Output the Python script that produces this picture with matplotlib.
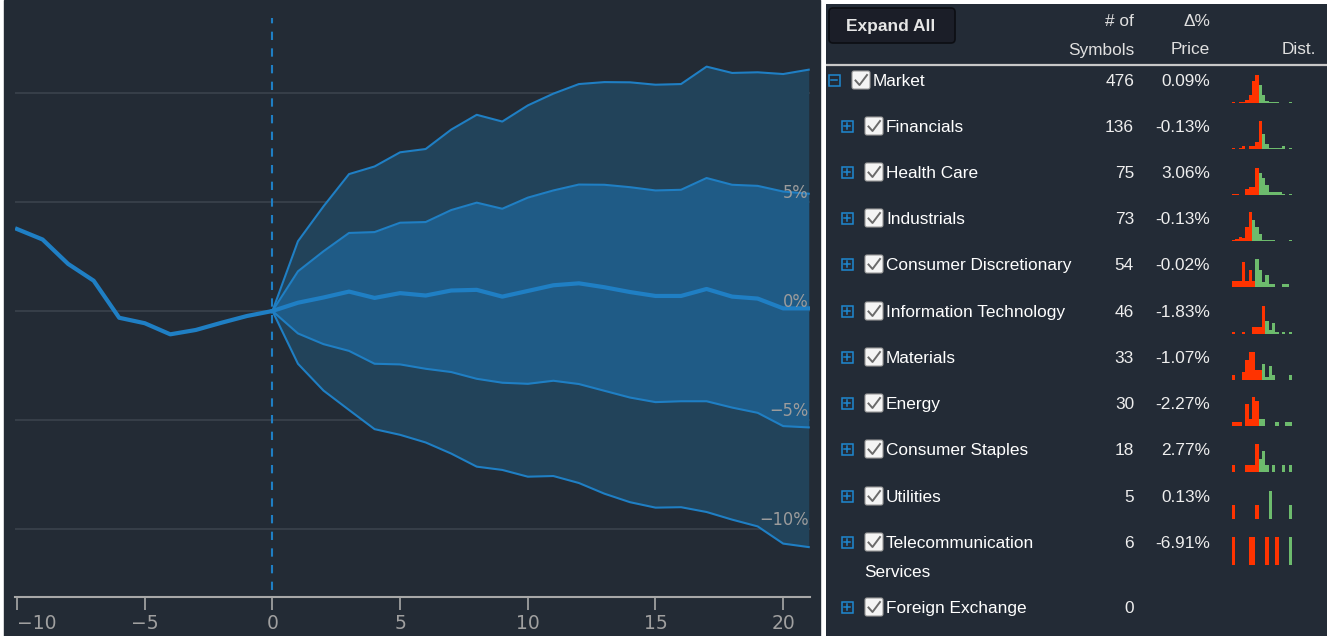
import matplotlib
matplotlib.use("Agg")
import matplotlib.pyplot as plt
from matplotlib.patches import Rectangle, FancyBboxPatch

W, H = 1327, 636

# price move (%) around the event day
days_pre = list(range(-10, 1))
pre_line = [3.76, 3.28, 2.16, 1.39, -0.31, -0.56, -1.07, -0.87, -0.54, -0.23, 0.0]

days_post = list(range(0, 22))
upper_outer = [0, 3.2, 4.8, 6.28, 6.63, 7.28, 7.43, 8.32, 9.0, 8.69, 9.43, 9.97,
               10.41, 10.5, 10.49, 10.38, 10.41, 11.21, 10.92, 10.95, 10.87, 11.07]
upper_inner = [0, 1.82, 2.74, 3.58, 3.62, 4.05, 4.08, 4.63, 4.97, 4.69, 5.2, 5.53,
               5.8, 5.79, 5.68, 5.53, 5.56, 6.1, 5.79, 5.74, 5.48, 5.38]
median = [0, 0.38, 0.62, 0.89, 0.6, 0.82, 0.71, 0.94, 0.97, 0.66, 0.92, 1.18,
          1.27, 1.09, 0.87, 0.69, 0.69, 1.01, 0.66, 0.57, 0.12, 0.12]
lower_inner = [0, -1.03, -1.52, -1.83, -2.42, -2.45, -2.65, -2.8, -3.11, -3.29, -3.34, -3.2,
               -3.35, -3.66, -3.97, -4.18, -4.14, -4.14, -4.43, -4.67, -5.28, -5.34]
lower_outer = [0, -2.42, -3.65, -4.54, -5.42, -5.68, -6.03, -6.54, -7.14, -7.29, -7.6, -7.57,
               -7.89, -8.38, -8.77, -9.02, -9.0, -9.22, -9.57, -9.88, -10.67, -10.83]

x_ticks = [-10, -5, 0, 5, 10, 15, 20]
y_labels = [5, 0, -5, -10]

# sector table
sectors = ["Market", "Financials", "Health Care", "Industrials", "Consumer Discretionary",
           "Information Technology", "Materials", "Energy", "Consumer Staples", "Utilities",
           "Telecommunication Services", "Foreign Exchange"]
n_symbols = [476, 136, 75, 73, 54, 46, 33, 30, 18, 5, 6, 0]
pct_change = [0.09, -0.13, 3.06, -0.13, -0.02, -1.83, -1.07, -2.27, 2.77, 0.13, -6.91, None]

# distribution of returns, bins left of split are down moves
hist_counts = [
    [1, 0, 1, 1, 3, 8, 22, 28, 18, 8, 2, 1, 1, 1, 0, 0, 0, 1],
    [1, 0, 1, 3, 0, 3, 3, 7, 28, 15, 5, 1, 1, 1, 1, 3, 0, 1],
    [1, 1, 0, 0, 6, 8, 8, 27, 22, 17, 10, 3, 3, 3, 3, 1, 0, 1],
    [1, 2, 4, 3, 14, 29, 21, 14, 7, 1, 1, 1, 1, 0, 0, 0, 0, 1],
    [6, 6, 6, 25, 6, 17, 6, 28, 17, 5, 12, 3, 3, 0, 0, 3, 3, 0],
    [2, 0, 0, 2, 0, 0, 7, 7, 7, 28, 13, 4, 11, 2, 0, 2, 0, 2],
    [5, 0, 0, 8, 20, 28, 28, 10, 10, 16, 3, 14, 5, 0, 0, 0, 0, 5],
    [4, 4, 4, 0, 22, 7, 29, 25, 7, 7, 0, 0, 0, 4, 0, 0, 4, 4],
    [7, 0, 0, 0, 7, 7, 7, 28, 13, 21, 7, 0, 7, 0, 0, 7, 0, 7],
    [14, 0, 0, 0, 0, 0, 0, 14, 0, 0, 0, 28, 0, 0, 0, 0, 0, 14],
    [28, 0, 0, 0, 0, 28, 28, 0, 0, 0, 28, 0, 0, 28, 0, 0, 0, 28],
    [],
]
hist_split = [8, 9, 8, 6, 7, 10, 9, 8, 8, 8, 14, 0]

bg = "#232b35"
line_c = "#1f7fc4"
grid_c = "#3a434d"
axis_c = "#a8a8a8"
red = "#ff3300"
green = "#6dbb6d"

fig = plt.figure(figsize=(W / 100, H / 100), dpi=100, facecolor="white")

# left panel
fig.add_artist(Rectangle((4 / W, 0), (820 - 4) / W, 1, transform=fig.transFigure,
                         color=bg, zorder=0))
ax = fig.add_axes([15 / W, (H - 597) / H, 795 / W, 587 / H])
ax.set_facecolor("none")
ax.set_xlim(-10.08, 21.05)
ax.set_ylim((311 - 597) / 21.8, (311 - 10) / 21.8)

for v in [-10, -5, 0, 5, 10]:
    ax.axhline(v, color=grid_c, lw=1.2, zorder=1)

ax.fill_between(days_post, lower_outer, upper_outer, color="#22435a", lw=0, zorder=2)
ax.fill_between(days_post, lower_inner, upper_inner, color="#1f5b86", lw=0, zorder=3)
for s in [upper_outer, lower_outer, upper_inner, lower_inner]:
    ax.plot(days_post, s, color=line_c, lw=1.5, zorder=4)
ax.plot(days_post, median, color=line_c, lw=3, zorder=5)
ax.plot(days_pre, pre_line, color=line_c, lw=3, zorder=5)
ax.vlines(0, (311 - 590) / 21.8, (311 - 18) / 21.8, color=line_c, lw=1.5,
          linestyles=(0, (4, 4)), zorder=6)

chart_font = ["DejaVu Sans"]
for v in y_labels:
    lab = ("\u2212" if v < 0 else "") + f"{abs(v)}%"
    ax.text(21.0, v + 0.42, lab, ha="right", va="center", color="#9c9c9c",
            fontsize=13, family=chart_font, fontstretch="condensed", zorder=7)

for side in ["left", "right", "top"]:
    ax.spines[side].set_visible(False)
ax.spines["bottom"].set_color(axis_c)
ax.spines["bottom"].set_linewidth(1.5)
ax.set_yticks([])
ax.set_xticks(x_ticks)
ax.tick_params(axis="x", direction="out", length=9, width=1.2, color=axis_c,
               labelcolor="#a0a0a0", labelsize=13.5, pad=3)
for t in ax.get_xticklabels():
    t.set_family(chart_font)
ax.get_xticklabels()[0].set_horizontalalignment("left")

# right panel table
axt = fig.add_axes([826 / W, 0, 501 / W, 632 / H])
axt.set_xlim(826, 1327)
axt.set_ylim(636, 4)
axt.set_facecolor("#232b36")
axt.axis("off")
axt.add_patch(Rectangle((826, 4), 501, 632, color="#232b36", zorder=0))

tf = "Liberation Sans"
axt.add_patch(FancyBboxPatch((829, 8), 126, 35, boxstyle="round,pad=0,rounding_size=4",
                             facecolor="#1b1e28", edgecolor="#0c0e13", lw=1.2, zorder=2))
axt.text(891, 27, "Expand All", ha="center", va="center", color="#e6e6e6",
         fontsize=12.5, fontweight="bold", family=tf, zorder=3)
hdr = dict(ha="right", va="center", color="#e0e0e0", fontsize=12.4, family=tf)
axt.text(1134, 21, "# of", **hdr)
axt.text(1134, 50, "Symbols", **hdr)
axt.text(1210, 21, "\u0394%", **hdr)
axt.text(1210, 50, "Price", **hdr)
axt.text(1316, 50, "Dist.", **hdr)
axt.plot([826, 1327], [65, 65], color="#c8c8c8", lw=1.6)

row_y = [80, 126, 172, 218, 264, 311, 357, 403, 449, 496, 542, 607]
bw = 60 / 18
for r, name in enumerate(sectors):
    y = row_y[r]
    indent = 0 if r == 0 else 13
    ix = 834 + indent
    # expander icon
    axt.add_patch(Rectangle((ix - 5.5, y - 5.5), 11, 11, fill=False,
                            edgecolor="#1e88d0", lw=1.1))
    axt.plot([ix - 3, ix + 3], [y, y], color="#1e88d0", lw=1.1)
    if r > 0:
        axt.plot([ix, ix], [y - 3, y + 3], color="#1e88d0", lw=1.1)
    # checkbox
    cx = 852 + indent
    axt.add_patch(FancyBboxPatch((cx, y - 9), 18, 18, boxstyle="round,pad=0,rounding_size=2",
                                 facecolor="#f4f4f4", edgecolor="#9a9a9a", lw=0.8))
    axt.plot([cx + 3.5, cx + 7.5, cx + 15], [y + 0.5, y + 5, y - 5], color="#6a6a6a", lw=1.4)
    ty = y + 1.5
    lab = dict(ha="left", va="center", color="#ffffff", fontsize=12.4, family=tf)
    if name.startswith("Telecommunication"):
        first, rest = name.split(" ", 1)
        axt.text(cx + 21, ty, first, **lab)
        axt.text(864, ty + 29, rest, **lab)
    else:
        axt.text(cx + 21, ty, name, **lab)
    num = dict(ha="right", va="center", color="#eeeeee", fontsize=12.4, family=tf)
    axt.text(1134, ty, str(n_symbols[r]), **num)
    if pct_change[r] is not None:
        axt.text(1210, ty, f"{pct_change[r]:.2f}%", **num)
    # distribution bars
    base = y + 23
    for i, h in enumerate(hist_counts[r]):
        if h == 0:
            continue
        c = red if i < hist_split[r] else green
        axt.bar(1232 + i * bw, -h, bottom=base, width=bw, align="edge", color=c, lw=0)

fig.savefig("out.png", dpi=100, facecolor="white")
